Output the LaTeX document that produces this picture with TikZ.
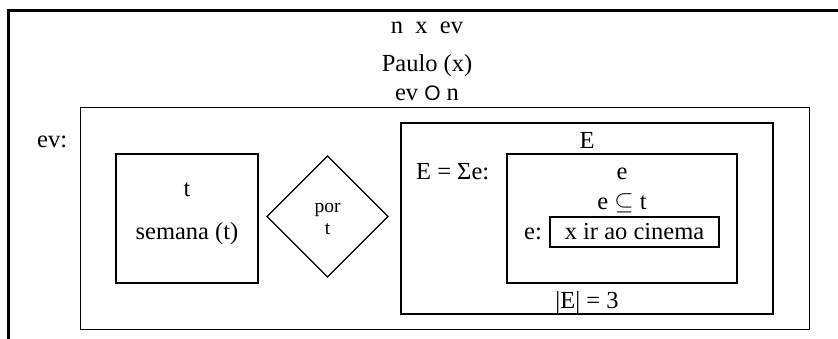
\documentclass[tikz,border=0pt]{standalone}
\usepackage{fontspec}
\setmainfont{Liberation Serif}
\newfontfamily\sansO{Liberation Sans}
\usetikzlibrary{shapes.geometric}
\tikzset{
  txt/.style={inner sep=0pt, font=\fontsize{24.5}{29}\selectfont},
  smalltxt/.style={inner sep=0pt, font=\fontsize{19.5}{22}\selectfont},
  box/.style={draw, rectangle, inner sep=0pt, outer sep=0pt},
  dia/.style={draw, diamond, inner sep=0pt, outer sep=0pt, line width=1.3pt}
}
\begin{document}
\begin{tikzpicture}[x=1pt,y=-1pt]
\useasboundingbox (0,0) rectangle (838,339);
% outer frame (only top and left sides visible)
\coordinate (fbl) at (8.5,345);
\coordinate (ftl) at (8.5,10.3);
\coordinate (ftr) at (845,10.3);
\draw[line width=2.5pt] (fbl) -- (ftl) -- (ftr);
% top texts
\node[txt, anchor=base] (nxev) at (427,34) {n~~x~~ev};
\node[txt, anchor=base] (paulo) at (427,72) {Paulo (x)};
\node[txt, anchor=base] (evon) at (427,101) {ev {\sansO\fontsize{21}{25}\selectfont O} n};
% big ev box
\node[box, line width=1pt, minimum width=729pt, minimum height=221pt] (evbox) at (444.5,218.5) {};
\node[txt, anchor=base west] (evlab) at (37,148) {ev:};
% semana box
\node[box, line width=1.7pt, minimum width=142pt, minimum height=129pt] (sembox) at (187,218.5) {};
\node[txt, anchor=base] (tlab) at (187,197) {t};
\node[txt, anchor=base] (semlab) at (187,240) {semana (t)};
% diamond
\node[dia, minimum width=121pt, minimum height=121pt] (por) at (327.5,216.5) {};
\node[smalltxt, anchor=base] (porlab) at (327.5,213) {por};
\node[smalltxt, anchor=base] (portlab) at (327.5,235) {t};
% E box
\node[box, line width=1.7pt, minimum width=372pt, minimum height=191pt] (Ebox) at (587,218.5) {};
\node[txt, anchor=base] (Elab) at (587,149) {E};
\node[txt, anchor=base west] (Esum) at (416,180) {E = Σe:};
\node[txt, anchor=base] (Ecard) at (587,308) {|E| = 3};
% e box
\node[box, line width=1.3pt, minimum width=230pt, minimum height=129pt] (ebox) at (622,218.5) {};
\node[txt, anchor=base] (elab) at (622,180) {e};
\node[txt, anchor=base] (esub) at (622,210) {e $\subseteq$ t};
\node[txt, anchor=base west] (ecolon) at (524,240) {e:};
% cinema box
\node[box, line width=2pt, minimum width=169pt, minimum height=30pt] (cinbox) at (634.5,232) {};
\node[txt, anchor=base] (cinlab) at (634.5,240) {x ir ao cinema};
\end{tikzpicture}
\end{document}
